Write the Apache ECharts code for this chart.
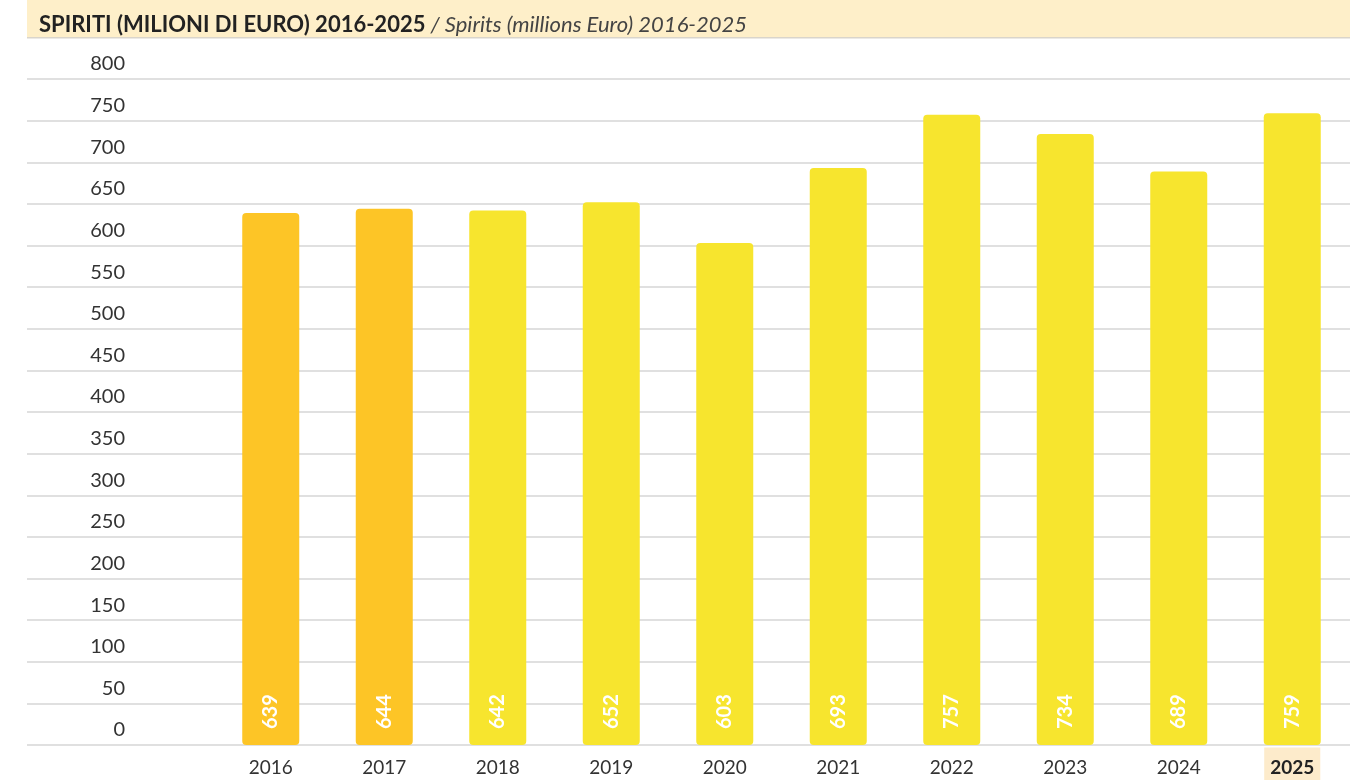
<!DOCTYPE html>
<html>
<head>
<meta charset="utf-8">
<script src="https://cdn.jsdelivr.net/npm/echarts@6/dist/echarts.min.js"></script>
<style>
  html, body { margin: 0; padding: 0; background: #fff; }
  #chart { width: 1366px; height: 780px; }
</style>
</head>
<body>
<div id="chart"></div>
<script>
// Spirits exports, millions of euro
const years = ['2016', '2017', '2018', '2019', '2020', '2021', '2022', '2023', '2024', '2025'];
const values = [639, 644, 642, 652, 603, 693, 757, 734, 689, 759];
const yTicks = { min: 0, max: 800, interval: 50 };

const darkYellow = '#FDC526';
const lightYellow = '#F7E52E';
const highlightYear = '2025';

const chart = echarts.init(document.getElementById('chart'));

const GRID_TOP = 79;
const GRID_BOTTOM = 35;

chart.setOption({
  animation: false,
  backgroundColor: '#ffffff',
  graphic: [
    {
      type: 'rect',
      shape: { x: 27, y: 0, width: 1323, height: 38 },
      style: { fill: '#FEEFC9' },
      z: 0
    },
    {
      type: 'rect',
      shape: { x: 27, y: 37, width: 1323, height: 1.5 },
      style: { fill: '#DAD5CB' },
      z: 1
    }
  ],
  title: {
    left: 34,
    top: 9,
    text: '{a|SPIRITI (MILIONI DI EURO) 2016-2025} {b|/ Spirits (millions Euro) 2016-2025}',
    textStyle: {
      rich: {
        a: { fontFamily: 'Lato, sans-serif', fontWeight: 'bold', fontSize: 22, color: '#222222' },
        b: { fontFamily: 'Lato, sans-serif', fontWeight: 'normal', fontStyle: 'italic', fontSize: 22, color: '#444444' }
      }
    }
  },
  grid: [
    { left: 27, right: 16, top: GRID_TOP, bottom: GRID_BOTTOM, outerBoundsMode: 'none', containLabel: false },
    { left: 214, right: 17, top: GRID_TOP, bottom: GRID_BOTTOM, outerBoundsMode: 'none', containLabel: false }
  ],
  xAxis: [
    { type: 'value', gridIndex: 0, show: false, min: 0, max: 1 },
    {
      type: 'category',
      gridIndex: 1,
      data: years,
      axisLine: { show: false },
      axisTick: { show: false },
      axisLabel: {
        margin: 23,
        verticalAlign: 'middle',
        fontFamily: 'Lato, sans-serif',
        fontSize: 19,
        color: '#333333',
        formatter: function (v) {
          return v === highlightYear ? '{hl|' + v + '}' : v;
        },
        rich: {
          hl: {
            fontFamily: 'Lato, sans-serif',
            fontWeight: 'bold',
            fontSize: 19,
            color: '#222222',
            backgroundColor: '#FDEBCB',
            padding: [11, 6, 11, 6]
          }
        }
      }
    }
  ],
  yAxis: [
    {
      type: 'value',
      gridIndex: 0,
      min: yTicks.min,
      max: yTicks.max,
      interval: yTicks.interval,
      axisLine: { show: false },
      axisTick: { show: false },
      splitLine: { lineStyle: { color: '#D6D6D6', width: 1.5 } },
      axisLabel: {
        inside: true,
        margin: 98,
        align: 'right',
        verticalAlign: 'bottom',
        padding: [0, 0, 5, 0],
        fontFamily: 'Lato, sans-serif',
        fontSize: 20,
        color: '#333333'
      }
    },
    {
      type: 'value',
      gridIndex: 1,
      min: yTicks.min,
      max: yTicks.max,
      interval: yTicks.interval,
      show: false
    }
  ],
  series: [
    {
      type: 'bar',
      xAxisIndex: 1,
      yAxisIndex: 1,
      barWidth: 57,
      z: 3,
      data: values.map(function (v, i) {
        return {
          value: v,
          itemStyle: {
            color: i < 2 ? darkYellow : lightYellow,
            borderRadius: 4
          }
        };
      }),
      label: {
        show: true,
        position: 'insideBottom',
        rotate: 90,
        align: 'left',
        verticalAlign: 'middle',
        distance: 16,
        fontFamily: 'Lato, sans-serif',
        fontWeight: 'bold',
        fontSize: 20,
        color: '#ffffff'
      }
    }
  ]
});
</script>
</body>
</html>
